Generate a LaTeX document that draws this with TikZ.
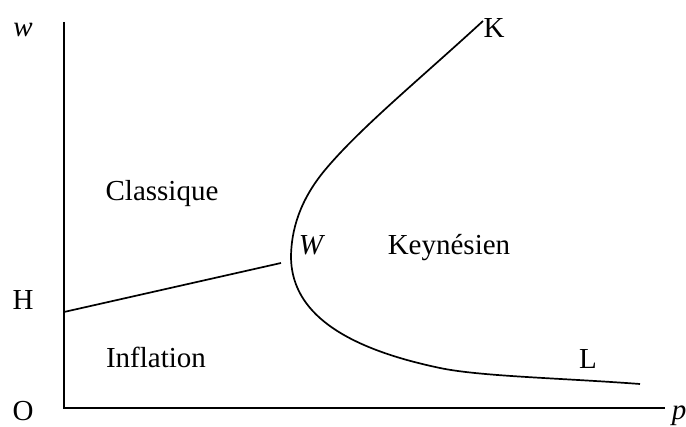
\documentclass[tikz,border=0pt]{standalone}
\usepackage{fontspec}
\setmainfont{Liberation Serif}
\begin{document}
\begin{tikzpicture}[x=1pt,y=-1pt,
  curve/.style={line width=1.7pt},
  axis/.style={line width=1.8pt},
  lbl/.style={inner sep=0pt, font=\fontsize{29}{33}\selectfont},
  ilbl/.style={lbl, font=\fontsize{29}{33}\selectfont\itshape}]
\useasboundingbox (0,0) rectangle (686,427);
% axes
\coordinate (ytop) at (64,22);
\coordinate (orig) at (64,408);
\coordinate (xend) at (665,408);
\draw[axis] (ytop) -- (orig) -- (xend);
% H line
\coordinate (hstart) at (64,312);
\coordinate (hend) at (281,263);
\draw[curve] (hstart) -- (hend);
% K-W-L curve
\coordinate (kend) at (483,21);
\coordinate (lend) at (640,384);
\draw[curve] (kend)
  .. controls (420,79) and (360,128) .. (325,170)
  .. controls (300,200) and (291,230) .. (291,258)
  .. controls (292,305) and (330,345) .. (440,368)
  .. controls (480,376.4) and (560,378) .. (lend);
% labels
\node[ilbl] (w) at (23,30) {w};
\node[lbl] (K) at (494,28) {K};
\node[lbl] (Cl) at (162,194) {Classique};
\node[ilbl] (W) at (311,245) {W};
\node[lbl] (Ke) at (449,248) {Keynésien};
\node[lbl] (H) at (23,300) {H};
\node[lbl] (In) at (156,357) {Inflation};
\node[lbl] (L) at (588,359) {L};
\node[lbl] (O) at (23,411) {O};
\node[ilbl] (p) at (679,416) {p};
\end{tikzpicture}
\end{document}
